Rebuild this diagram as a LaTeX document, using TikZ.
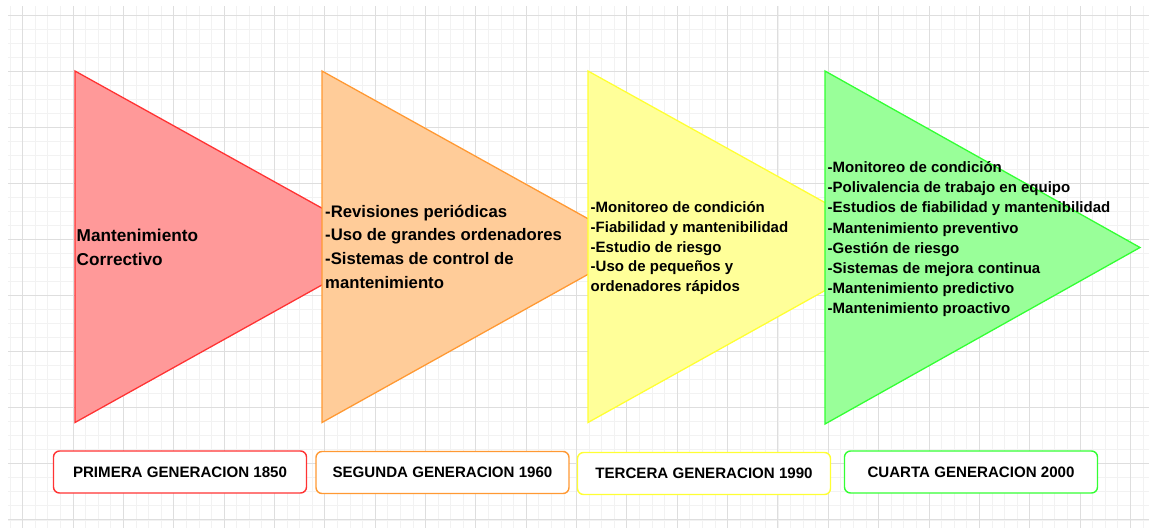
\documentclass[tikz,border=0pt]{standalone}
\usepackage{fontspec}
\setmainfont{Liberation Sans}
\definecolor{redfill}{HTML}{FF9999}
\definecolor{redline}{HTML}{FF3333}
\definecolor{orangefill}{HTML}{FFCC99}
\definecolor{orangeline}{HTML}{FF9933}
\definecolor{yellowfill}{HTML}{FFFF99}
\definecolor{yellowline}{HTML}{FFFF33}
\definecolor{greenfill}{HTML}{99FF99}
\definecolor{greenline}{HTML}{33FF33}
\definecolor{gridmajor}{HTML}{DEDEDE}
\definecolor{gridminor}{HTML}{F2F2F2}
\tikzset{
  genbox/.style={draw, line width=1.4pt, fill=white, rounded corners=6pt,
    minimum width=253pt, minimum height=42pt,
    font=\fontsize{15.1}{17}\selectfont\bfseries},
  itemtext/.style={anchor=base west, align=left, inner sep=0pt}
}
\begin{document}
\begin{tikzpicture}[x=1pt, y=-1pt]
      \useasboundingbox (0,0) rectangle (1149,528);
      \begin{scope}
        \clip (8,6) rectangle (1149,528);
        \foreach \i in {0,...,90}
          \draw[gridminor, line width=0.8pt] ({10.1+12.5875*\i},6) -- ++(0,522);
        \foreach \i in {0,...,36}
          \draw[gridminor, line width=0.8pt] (8,{15+14.025*\i}) -- ++(1141,0);
        \foreach \i in {0,...,22}
          \draw[gridmajor, line width=1pt] ({22.7+50.35*\i},6) -- ++(0,522);
        \foreach \i in {0,...,9}
          \draw[gridmajor, line width=1pt] (8,{15+56.1*\i}) -- ++(1141,0);
      \end{scope}
      \draw[redline, fill=redfill, line width=1.3pt] (75,71) -- (75,422.5) -- (391,246.5) -- cycle;
      \draw[orangeline, fill=orangefill, line width=1.3pt] (322,71) -- (322,422.5) -- (638,246.5) -- cycle;
      \draw[yellowline, fill=yellowfill, line width=1.3pt] (588,71) -- (588,422.5) -- (904,246.5) -- cycle;
      \draw[greenline, fill=greenfill, line width=1.3pt] (825,71) -- (825,424) -- (1140,247.5) -- cycle;
      \node[itemtext, font=\fontsize{17.2}{24}\selectfont\bfseries] (correctivo) at (76.5,265)
        {Mantenimiento\\Correctivo};
      \node[itemtext, font=\fontsize{16.7}{23.7}\selectfont\bfseries] (segunda) at (325,288.1)
        {-Revisiones periódicas\\-Uso de grandes ordenadores\\-Sistemas de control de\\mantenimiento};
      \node[itemtext, font=\fontsize{15}{19.75}\selectfont\bfseries] (tercera) at (590.5,291.7)
        {-Monitoreo de condición\\-Fiabilidad y mantenibilidad\\-Estudio de riesgo\\-Uso de pequeños y\\ordenadores rápidos};
      \node[itemtext, font=\fontsize{15}{20.1}\selectfont\bfseries] (cuarta) at (827.5,313.4)
        {-Monitoreo de condición\\-Polivalencia de trabajo en equipo\\-Estudios de fiabilidad y mantenibilidad\\-Mantenimiento preventivo\\-Gestión de riesgo\\-Sistemas de mejora continua\\-Mantenimiento predictivo\\-Mantenimiento proactivo};
      \node[genbox, draw=redline] (gen1) at (180,472) {PRIMERA GENERACION 1850};
      \node[genbox, draw=orangeline] (gen2) at (442.5,472.5) {SEGUNDA GENERACION 1960};
      \node[genbox, draw=yellowline] (gen3) at (704,473.5) {TERCERA GENERACION 1990};
      \node[genbox, draw=greenline] (gen4) at (971,472) {CUARTA GENERACION 2000};
    \end{tikzpicture}
\end{document}
